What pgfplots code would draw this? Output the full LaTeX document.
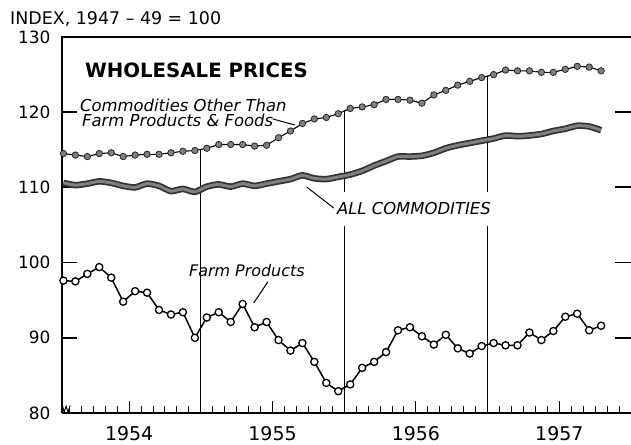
\documentclass[border=0pt]{standalone}
\usepackage{fontspec}
\setmainfont{DejaVu Sans}
\usepackage{pgfplots}
\usepackage{pgfplotstable}
\pgfplotsset{compat=1.18}

\pgfplotstableread{
x farm other all
0.5 97.6 114.5 110.6
1.5 97.5 114.3 110.3
2.5 98.5 114.1 110.5
3.5 99.4 114.5 110.8
4.5 98.0 114.6 110.6
5.5 94.8 114.1 110.2
6.5 96.2 114.3 110.0
7.5 96.0 114.4 110.5
8.5 93.7 114.4 110.2
9.5 93.1 114.6 109.5
10.5 93.4 114.8 109.8
11.5 90.0 114.9 109.4
12.5 92.7 115.2 110.1
13.5 93.4 115.7 110.4
14.5 92.1 115.7 110.1
15.5 94.5 115.7 110.5
16.5 91.4 115.5 110.2
17.5 92.1 115.6 110.5
18.5 89.7 116.6 110.8
19.5 88.3 117.5 111.1
20.5 89.3 118.5 111.6
21.5 86.8 119.1 111.2
22.5 84.0 119.3 111.1
23.5 82.9 119.8 111.4
24.5 83.8 120.5 111.7
25.5 86.0 120.7 112.2
26.5 86.8 121.0 112.9
27.5 88.1 121.7 113.5
28.5 91.0 121.7 114.1
29.5 91.4 121.6 114.1
30.5 90.2 121.2 114.2
31.5 89.1 122.3 114.6
32.5 90.4 122.9 115.2
33.5 88.6 123.6 115.6
34.5 87.9 124.1 115.9
35.5 88.9 124.6 116.2
36.5 89.3 125.0 116.5
37.5 89.0 125.6 116.9
38.5 89.0 125.5 116.8
39.5 90.7 125.5 116.9
40.5 89.7 125.3 117.1
41.5 90.9 125.3 117.5
42.5 92.8 125.7 117.8
43.5 93.2 126.1 118.2
44.5 91.0 126.0 118.1
45.5 91.6 125.5 117.6
}\data

\begin{document}
\begin{tikzpicture}
\begin{axis}[
  scale only axis, width=569bp, height=376bp,
  xmin=0.38, xmax=48, ymin=80, ymax=130,
  clip=false,
  axis line style={draw=none},
  tick align=inside,
  major tick length=0bp,
  ytick={80,90,100,110,120,130},
  yticklabels={80,90,100,110,120,130},
  ytick style={draw=none},
  y tick label style={font=\fontsize{17}{19}\selectfont, xshift=-8bp},
  xtick={6,18,30,42},
  xticklabels={1954,1955,1956,1957},
  xtick style={draw=none},
  x tick label style={font=\fontsize{19}{21}\selectfont, yshift=-10bp},
  /pgf/number format/assume math mode=true,
]
\coordinate (BL) at (rel axis cs:0,0);
\coordinate (TR) at (rel axis cs:1,1);
% frame
\draw[line width=1.6bp] (axis cs:0.38,80) -- (axis cs:0.38,130) -- (axis cs:48,130);
\draw[line width=1.6bp] (axis cs:0.38,80) -- (axis cs:48,80);
% y ticks on both sides
\draw[line width=1.8bp, black]
  (axis cs:0.38,90) -- (axis cs:1.63,90)
  (axis cs:0.38,100) -- (axis cs:1.63,100)
  (axis cs:0.38,110) -- (axis cs:1.63,110)
  (axis cs:0.38,120) -- (axis cs:1.63,120)
  (axis cs:48,90) -- (axis cs:46.66,90)
  (axis cs:48,100) -- (axis cs:46.66,100)
  (axis cs:48,110) -- (axis cs:46.66,110)
  (axis cs:48,120) -- (axis cs:46.66,120);
% month ticks
\pgfplotsinvokeforeach{1,2,3,4,5,7,8,9,10,11,13,14,15,16,17,19,20,21,22,23,25,26,27,28,29,31,32,33,34,35,37,38,39,40,41,43,44,45,46,47}{
  \draw[line width=1bp] (axis cs:#1,80) -- (axis cs:#1,80.95);
}
\pgfplotsinvokeforeach{6,18,30,42}{
  \draw[line width=1bp] (axis cs:#1,80) -- (axis cs:#1,81.6);
}
% axis break squiggle
\draw[line width=1bp] (axis cs:0.38,81.3) -- (axis cs:0.55,80.1) -- (axis cs:0.72,80.9) -- (axis cs:0.89,80.1) -- (axis cs:1.06,81.0);
% year separators
\draw[line width=1bp] (axis cs:12,80) -- (axis cs:12,115.05);
\draw[line width=1bp] (axis cs:24,80) -- (axis cs:24,120.15);
\draw[line width=1bp] (axis cs:36,80) -- (axis cs:36,124.8);

\addplot[black!80, line width=6.5bp, smooth, tension=0.4] table[x=x,y=all]{\data};
\addplot[black!50, line width=3bp, smooth, tension=0.4] table[x=x,y=all]{\data};

\addplot[black, line width=1.1bp, mark=*, mark size=3.2bp,
  mark options={fill=black!50, draw=black!85, line width=0.8bp}] table[x=x,y=other]{\data};

\addplot[black, line width=1.5bp, mark=*, mark size=3.6bp,
  mark options={fill=white, draw=black, line width=1.3bp}] table[x=x,y=farm]{\data};

% annotations
\node[anchor=base west, inner sep=0pt, font=\fontsize{17.5}{19}\selectfont] at (axis cs:-3.97,131.6) {INDEX, 1947 – 49 = 100};
\node[anchor=base west, inner sep=0pt, font=\bfseries\fontsize{19.8}{22}\selectfont] at (axis cs:2.30,124.55) {WHOLESALE PRICES};
\node[anchor=base west, inner sep=0pt, font=\itshape\fontsize{16.5}{18}\selectfont] at (axis cs:1.88,120.09) {Commodities Other Than};
\node[anchor=base west, inner sep=0pt, font=\itshape\fontsize{16.5}{18}\selectfont] at (axis cs:2.05,118.07) {Farm Products \& Foods};
\draw[line width=1bp] (axis cs:18.02,119.10) -- (axis cs:19.86,118.30);
\draw[line width=1bp] (axis cs:20.86,110.05) -- (axis cs:23.12,107.26);
\node[anchor=base west, fill=white, inner xsep=1bp, inner ysep=11bp, font=\itshape\fontsize{16.5}{18}\selectfont] at (axis cs:23.3,106.33) {ALL COMMODITIES};
\node[anchor=base west, inner sep=0pt, font=\itshape\fontsize{16}{18}\selectfont] at (axis cs:11.0,98.09) {Farm Products};
\draw[line width=1bp] (axis cs:17.60,97.42) -- (axis cs:16.43,94.63);
\end{axis}
\pgfresetboundingbox
\path[use as bounding box] ([xshift=-62bp,yshift=-32bp]BL) rectangle ([yshift=37bp]TR);
\end{tikzpicture}
\end{document}
